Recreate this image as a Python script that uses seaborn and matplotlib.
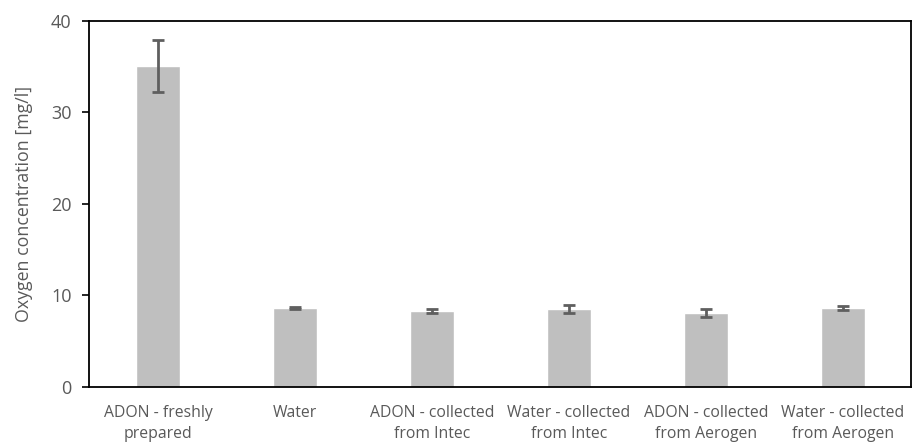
import matplotlib
matplotlib.use("Agg")
import matplotlib.pyplot as plt
import seaborn as sns
import pandas as pd

categories = ["ADON - freshly\nprepared", "Water", "ADON - collected\nfrom Intec",
              "Water - collected\nfrom Intec", "ADON - collected\nfrom Aerogen",
              "Water - collected\nfrom Aerogen"]
values = [35.05, 8.6, 8.3, 8.5, 8.05, 8.6]
errors = [2.85, 0.08, 0.24, 0.4, 0.42, 0.2]
yticks = [0, 10, 20, 30, 40]

sns.set_theme(style="white")
plt.rcParams['font.family'] = ['Open Sans', 'DejaVu Sans']

df = pd.DataFrame({"cat": categories, "val": values})
fig, ax = plt.subplots(figsize=(9.13, 4.42), dpi=100)
fig.subplots_adjust(left=0.098, right=0.998, top=0.953, bottom=0.125)
sns.barplot(data=df, x="cat", y="val", color="#BFBFBF", width=0.32,
            saturation=1, ax=ax, errorbar=None, zorder=2)
ax.errorbar(range(len(values)), values, yerr=errors, fmt="none",
            ecolor="#5F5F5F", elinewidth=2, capsize=4, capthick=2, zorder=3)
ax.set_ylim(0, 40)
ax.set_xlim(-0.5, len(values) - 0.5)
ax.set_yticks(yticks)
ax.set_xlabel("")
ax.set_ylabel("Oxygen concentration [mg/l]", fontsize=12.8, color="#595959", labelpad=13)
ax.tick_params(axis="y", labelsize=13, labelcolor="#595959", left=True,
               length=5, width=1.2, color="black", direction="out", pad=8)
ax.tick_params(axis="x", labelsize=11.3, labelcolor="#595959", bottom=False, pad=7)
for lab in ax.get_xticklabels():
    lab.set_linespacing(1.45)
for sp in ax.spines.values():
    sp.set_visible(True)
    sp.set_color("black")
    sp.set_linewidth(1.3)
fig.savefig("out.png", dpi=100)
